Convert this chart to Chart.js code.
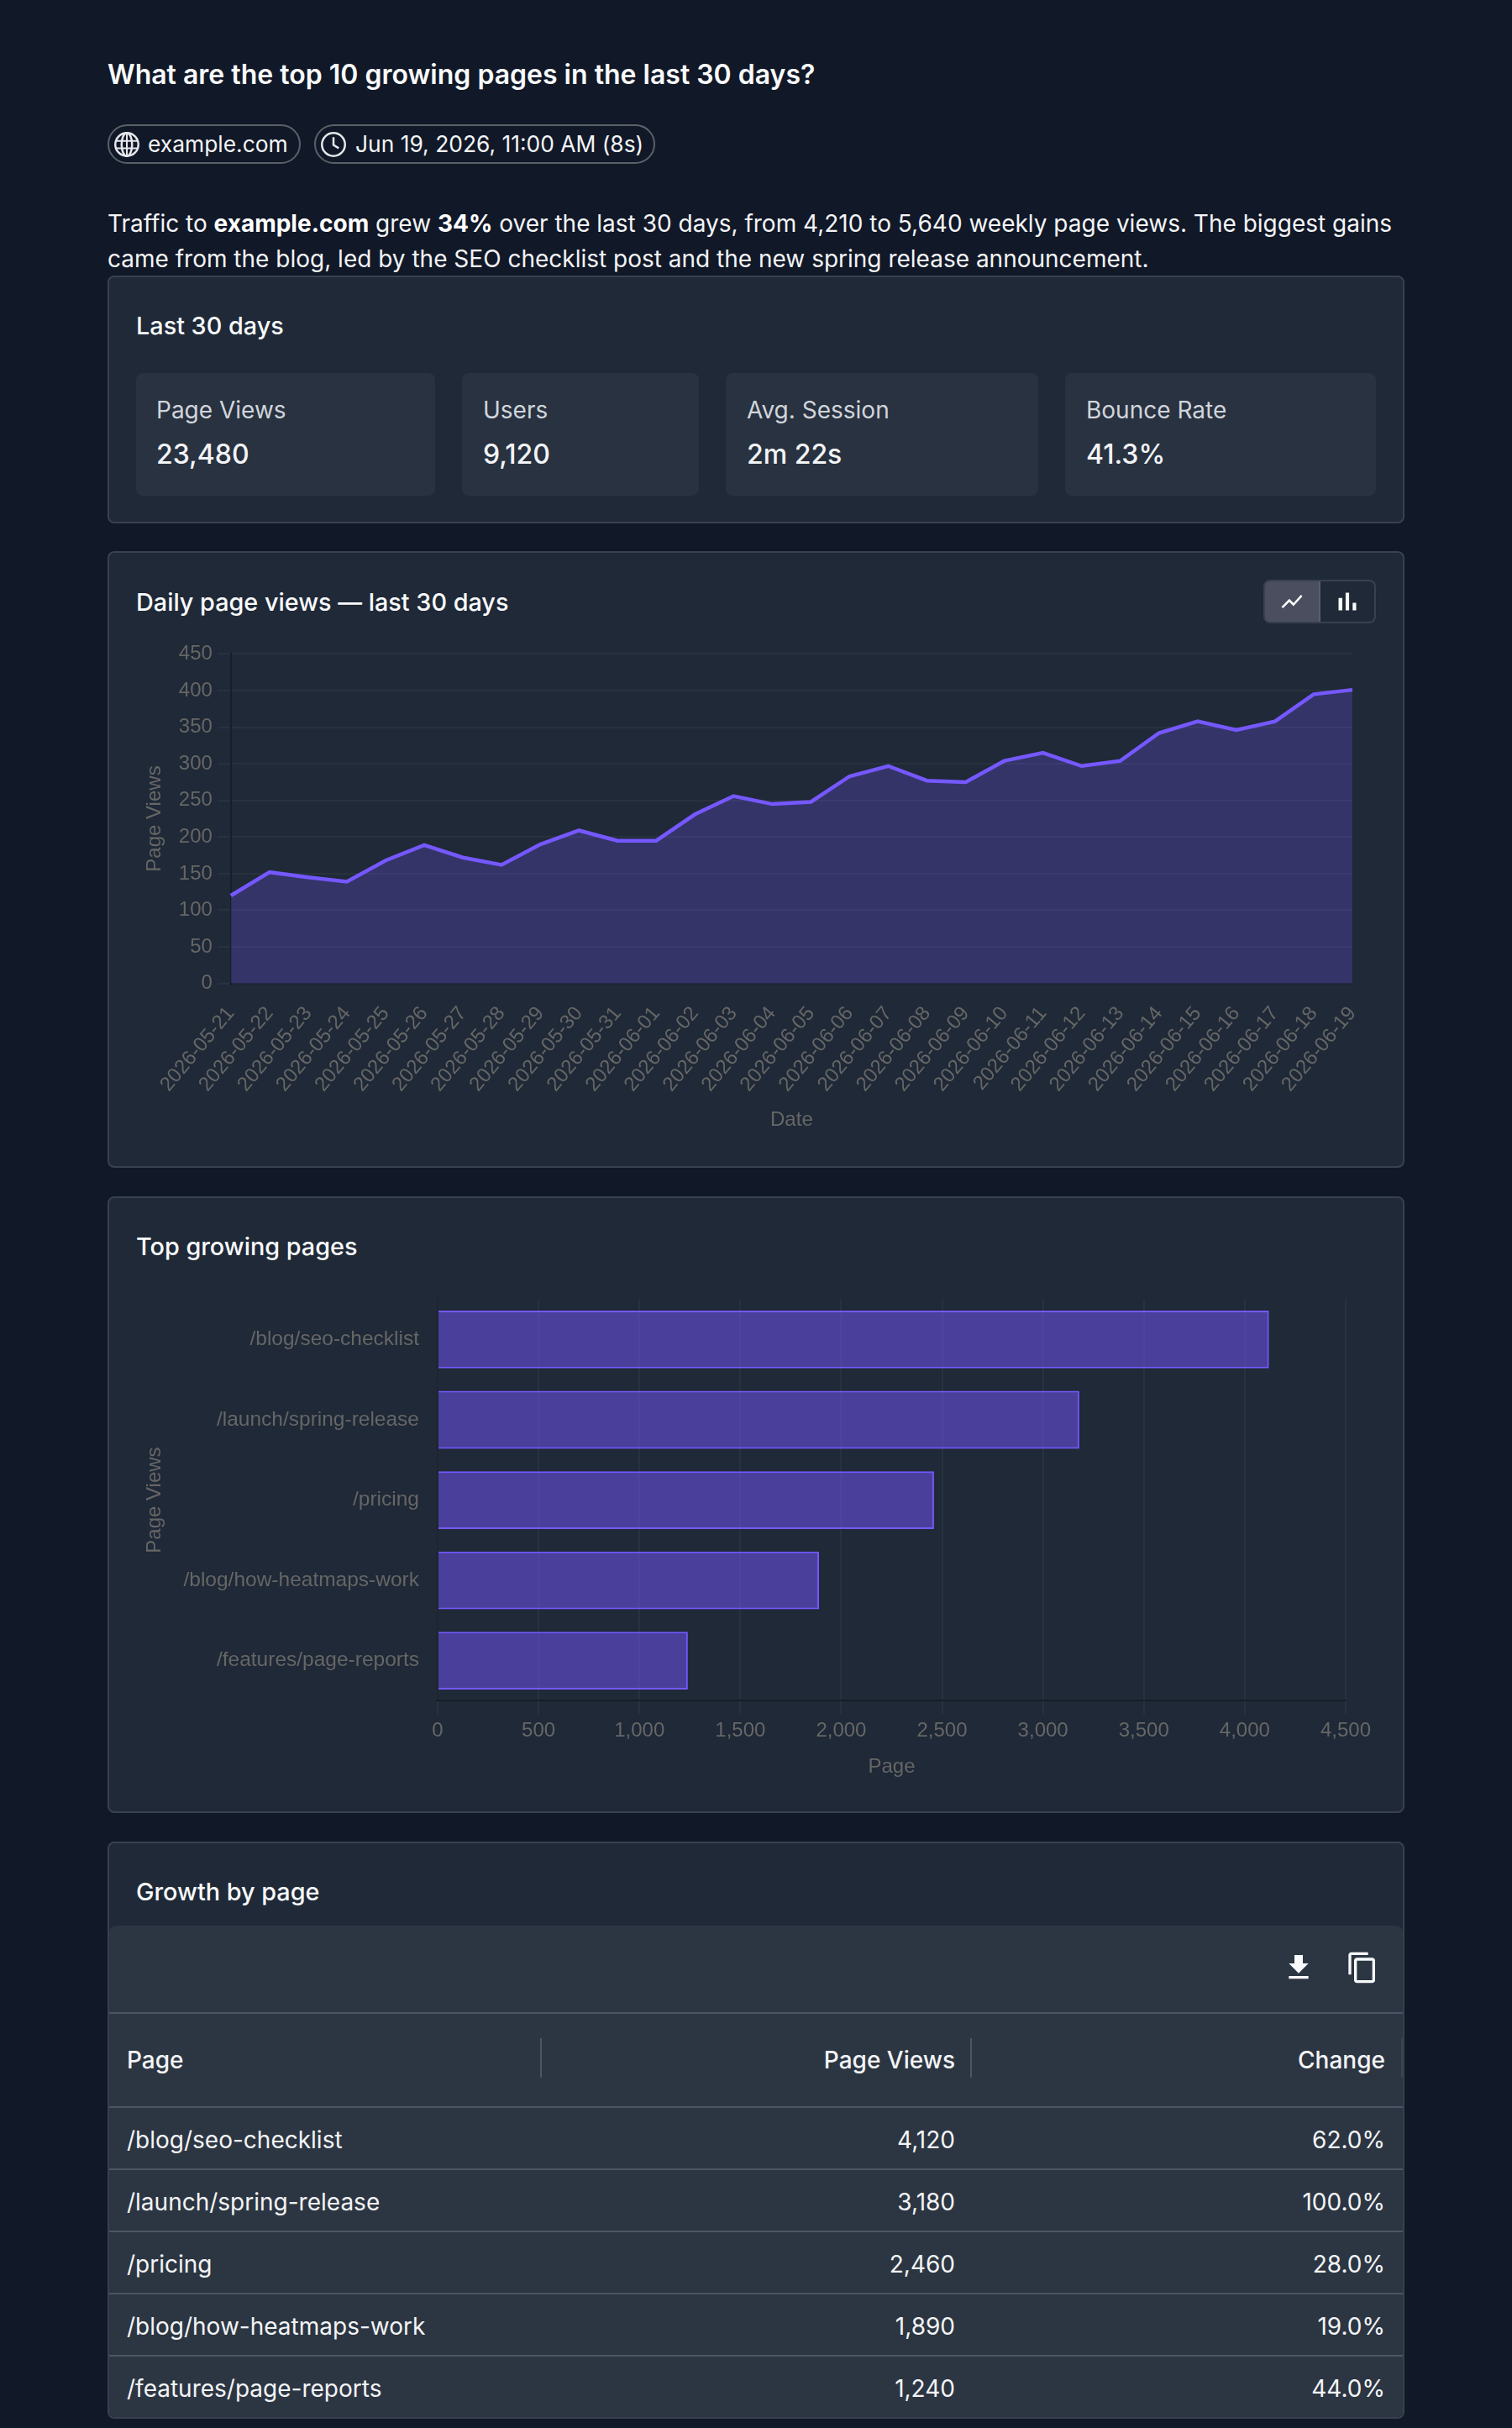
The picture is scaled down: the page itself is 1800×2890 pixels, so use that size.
<!DOCTYPE html>
<html lang="en">
<head>
<meta charset="utf-8">
<title>Top growing pages</title>
<script src="https://cdn.jsdelivr.net/npm/chart.js@4"></script>
<style>
*{box-sizing:border-box;margin:0;padding:0}
html,body{width:1800px;height:2890px;background:#111827;overflow:hidden}
body{font-family:Inter,sans-serif;color:#f3f4f6;font-size:28px;position:relative}
h1{position:absolute;left:128px;top:67px;font-size:32px;line-height:44px;font-weight:600;color:#f9fafb;white-space:nowrap}
.pill{position:absolute;top:148px;height:47px;border:2px solid #5c6068;border-radius:24px;color:#f3f4f6;white-space:nowrap}
.pill svg{position:absolute;left:6px;top:7px;width:30px;height:30px}
.pill span{position:absolute;left:46px;top:0;line-height:43px;font-size:26.4px}
.pill + .pill span{left:47px}
p.lead{position:absolute;left:128px;top:245px;width:1544px;font-size:28px;line-height:42px;color:#f3f4f6}
p.lead b{font-weight:700;color:#fff}
.card{position:absolute;left:128px;width:1544px;background:#1f2937;border:2px solid #374151;border-radius:8px;overflow:hidden}
.card h2{position:absolute;left:32px;font-size:28.8px;line-height:40px;font-weight:460;color:#f9fafb;white-space:nowrap}
.stat{position:absolute;top:114px;height:146px;background:#283241;border-radius:8px}
.stat .k{position:absolute;left:24px;top:24px;line-height:40px;font-size:28px;color:#d1d5db;white-space:nowrap}
.stat .v{position:absolute;left:24px;top:76px;line-height:42px;font-size:32px;font-weight:450;color:#f3f4f6;white-space:nowrap}
.stat + .stat .k,.stat + .stat .v{left:25px}
.toggle{position:absolute;left:1374px;top:32px;width:134px;height:52px;border:2px solid #374151;border-radius:8px;overflow:hidden}
.toggle i{position:absolute;top:-2px;height:52px;display:block}
.toggle i.on{left:-2px;width:68px;background:#4b4e5e;border:2px solid #5b5f6b;border-radius:8px 0 0 8px}
.toggle svg{position:absolute;fill:#f9fafb}
canvas{display:block}
.wrap{position:absolute;left:32px;width:1476px}
.grid{position:absolute;left:0;top:98px;width:1540px;height:587px;background:#2c3642;border-radius:8px 8px 0 0}
.grid table{position:absolute;left:0;top:103px;width:1540px;border-collapse:collapse;table-layout:fixed}
th,td{font-size:28px;padding:0 21px;text-align:right;white-space:nowrap;border-top:2px solid #4b5563;color:#f3f4f6}
th{height:112px;font-weight:460}
td{height:74px;font-weight:400;padding-top:3px}
th:first-child,td:first-child{text-align:left}
.sep{position:absolute;top:134px;width:2px;height:47px;background:#4b5563}
.tool svg{position:absolute;width:40px;height:40px;fill:#f9fafb}
</style>
</head>
<body>
<h1>What are the top 10 growing pages in the last 30 days?</h1>
<div class="pill" style="left:128px;width:230px">
  <svg viewBox="0 0 24 24" fill="none" stroke="#e5e7eb" stroke-width="2"><circle cx="12" cy="12" r="11"/><ellipse cx="12" cy="12" rx="5" ry="11"/><path d="M1 8.5h22M1 15.5h22M12 1v22" stroke-width="1.6"/></svg>
  <span>example.com</span>
</div>
<div class="pill" style="left:374px;width:406px">
  <svg viewBox="0 0 24 24" fill="none" stroke="#e5e7eb" stroke-width="2"><circle cx="12" cy="12" r="11"/><path d="M12 5v7.5l5 3"/></svg>
  <span>Jun 19, 2026, 11:00 AM (8s)</span>
</div>
<p class="lead">Traffic to <b>example.com</b> grew <b>34%</b> over the last 30 days, from 4,210 to 5,640 weekly page views. The biggest gains came from the blog, led by the SEO checklist post and the new spring release announcement.</p>

<section class="card" style="top:328px;height:295px">
  <h2 style="top:38px">Last 30 days</h2>
  <div class="stat" style="left:32px;width:356px"><div class="k">Page Views</div><div class="v">23,480</div></div>
  <div class="stat" style="left:420px;width:282px"><div class="k">Users</div><div class="v">9,120</div></div>
  <div class="stat" style="left:734px;width:372px"><div class="k">Avg. Session</div><div class="v">2m 22s</div></div>
  <div class="stat" style="left:1138px;width:370px"><div class="k">Bounce Rate</div><div class="v">41.3%</div></div>
</section>

<section class="card" style="top:656px;height:734px">
  <h2 style="top:39px">Daily page views — last 30 days</h2>
  <div class="toggle">
    <i class="on"></i>
    <svg viewBox="0 0 24 24" style="left:17px;top:8.7px;width:30px;height:30px"><path d="M3.5 18.49l6-6.01 4 4L22 6.92l-1.41-1.41-7.09 7.97-4-4L2 16.99z"/></svg>
    <svg viewBox="0 0 24 24" style="left:80px;top:5.7px;width:36px;height:36px"><path d="M5 9.2h3V19H5zM10.6 5h2.8v14h-2.8zM16.2 13H19v6h-2.8z"/></svg>
  </div>
  <div class="wrap" style="top:100px;height:598px"><canvas id="dailyChart"></canvas></div>
</section>

<section class="card" style="top:1424px;height:734px">
  <h2 style="top:38px">Top growing pages</h2>
  <div class="wrap" style="top:100px;height:600px"><canvas id="pagesChart"></canvas></div>
</section>

<section class="card" style="top:2192px;height:687px">
  <h2 style="top:38px">Growth by page</h2>
  <div class="grid">
    <div class="tool">
      <svg viewBox="0 0 24 24" style="left:1396px;top:30px"><path d="M5 20h14v-2H5v2zM19 9h-4V3H9v6H5l7 7 7-7z"/></svg>
      <svg viewBox="0 0 24 24" style="left:1472px;top:30px"><path d="M16 1H4c-1.1 0-2 .9-2 2v14h2V3h12V1zm3 4H8c-1.1 0-2 .9-2 2v14c0 1.1.9 2 2 2h11c1.1 0 2-.9 2-2V7c0-1.1-.9-2-2-2zm0 16H8V7h11v14z"/></svg>
    </div>
    <table id="growthTable">
      <colgroup><col style="width:514px"><col style="width:514px"><col style="width:512px"></colgroup>
      <thead><tr id="growthHead"></tr></thead>
      <tbody id="growthBody"></tbody>
    </table>
    <div class="sep" style="left:513px"></div>
    <div class="sep" style="left:1025px"></div>
    <div class="sep" style="left:1538px;background:#3a4350"></div>
  </div>
</section>

<script>
// Daily page views
const dates = ['2026-05-21','2026-05-22','2026-05-23','2026-05-24','2026-05-25','2026-05-26','2026-05-27','2026-05-28','2026-05-29','2026-05-30','2026-05-31','2026-06-01','2026-06-02','2026-06-03','2026-06-04','2026-06-05','2026-06-06','2026-06-07','2026-06-08','2026-06-09','2026-06-10','2026-06-11','2026-06-12','2026-06-13','2026-06-14','2026-06-15','2026-06-16','2026-06-17','2026-06-18','2026-06-19'];
const dailyViews = [120,152,145,139,168,189,172,162,190,209,195,195,231,256,245,248,283,297,277,275,304,315,297,304,342,358,346,358,395,401];

// Top growing pages
const pages = ['/blog/seo-checklist','/launch/spring-release','/pricing','/blog/how-heatmaps-work','/features/page-reports'];
const pageViews = [4120,3180,2460,1890,1240];
const pageChange = ['62.0%','100.0%','28.0%','19.0%','44.0%'];
const tableColumns = ['Page','Page Views','Change'];

const TICK = '#666666';
const GRID = 'rgba(255,255,255,0.045)';
const EDGE = 'rgba(0,0,0,0.25)';
const font = { family: '"Liberation Sans", Arial, sans-serif', size: 24 };
Chart.defaults.font.family = font.family;
Chart.defaults.font.size = 24;
Chart.defaults.color = TICK;

function axisTitle(text) {
  return { display: true, text, color: TICK, font, padding: { top: 8, bottom: 8 } };
}

new Chart(document.getElementById('dailyChart'), {
  type: 'line',
  data: {
    labels: dates,
    datasets: [{
      label: 'Page Views',
      data: dailyViews,
      borderColor: '#7558ff',
      backgroundColor: 'rgba(117,88,255,0.25)',
      borderWidth: 4.5,
      fill: true,
      tension: 0,
      pointRadius: 0
    }]
  },
  options: {
    animation: false,
    responsive: true,
    maintainAspectRatio: false,
    devicePixelRatio: 1,
    plugins: { legend: { display: false }, tooltip: { enabled: false } },
    scales: {
      x: {
        title: axisTitle('Date'),
        grid: { display: false, tickLength: 16 },
        border: { color: EDGE, width: 2 },
        ticks: { color: TICK, font, maxRotation: 50, minRotation: 50, autoSkip: false, padding: 6 }
      },
      y: {
        title: axisTitle('Page Views'),
        min: 0,
        max: 450,
        grid: { color: GRID, lineWidth: 2, tickLength: 16 },
        border: { color: EDGE, width: 2 },
        ticks: { color: TICK, font, stepSize: 50, padding: 6 }
      }
    }
  }
});

new Chart(document.getElementById('pagesChart'), {
  type: 'bar',
  data: {
    labels: pages,
    datasets: [{
      label: 'Page Views',
      data: pageViews,
      borderColor: '#7558ff',
      backgroundColor: 'rgba(117,88,255,0.5)',
      borderWidth: 2
    }]
  },
  options: {
    indexAxis: 'y',
    animation: false,
    responsive: true,
    maintainAspectRatio: false,
    devicePixelRatio: 1,
    plugins: { legend: { display: false }, tooltip: { enabled: false } },
    scales: {
      x: {
        title: axisTitle('Page'),
        min: 0,
        max: 4500,
        grid: { color: GRID, lineWidth: 2, tickLength: 16 },
        border: { color: EDGE, width: 2 },
        ticks: { color: TICK, font, stepSize: 500, padding: 6, maxRotation: 0 }
      },
      y: {
        title: axisTitle('Page Views'),
        grid: { display: false, tickLength: 16 },
        border: { color: EDGE, width: 2 },
        ticks: { color: TICK, font: { family: font.family, size: 24.5 }, padding: 6 },
        afterFit: scale => { scale.width = 359; }
      }
    }
  }
});

// Table built from the same series as the bar chart
const head = document.getElementById('growthHead');
tableColumns.forEach(name => {
  const th = document.createElement('th');
  th.textContent = name;
  head.appendChild(th);
});
const body = document.getElementById('growthBody');
pages.forEach((page, i) => {
  const tr = document.createElement('tr');
  [page, pageViews[i].toLocaleString('en-US'), pageChange[i]].forEach(text => {
    const td = document.createElement('td');
    td.textContent = text;
    tr.appendChild(td);
  });
  body.appendChild(tr);
});
</script>
</body>
</html>
